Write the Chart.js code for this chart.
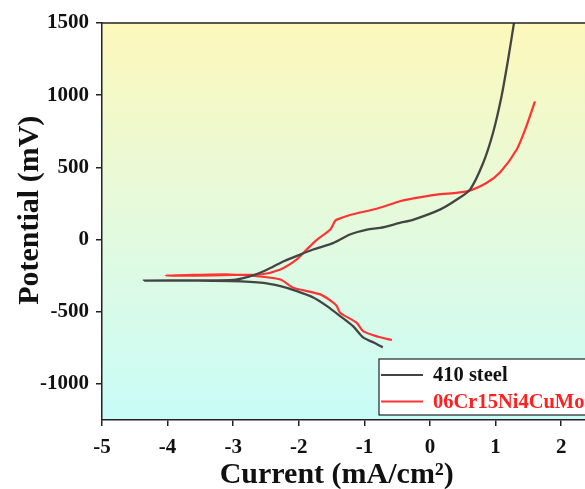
<!DOCTYPE html>
<html>
<head>
<meta charset="utf-8">
<script src="https://cdn.jsdelivr.net/npm/chart.js@4.4.0/dist/chart.umd.min.js"></script>
<style>
  html, body { margin: 0; padding: 0; background: #ffffff; overflow: hidden; width: 585px; height: 489px; }
  #wrap { position: absolute; left: 0; top: 0; width: 600px; height: 489px; }
</style>
</head>
<body>
<div id="wrap"><canvas id="c" width="600" height="489"></canvas></div>
<script>
// ---- data ----
const seriesNames = ['410 steel', '06Cr15Ni4CuMo'];

// 410 steel: cathodic branch (from its lower end to the corrosion point), then anodic branch
const steel410X = [-0.72, -0.85, -1.02, -1.17, -1.37, -1.57, -1.78, -2.03, -2.28, -2.54, -3.04, -3.60, -4.36,
                   -3.60, -3.00, -2.74, -2.59, -2.40, -2.23, -1.98, -1.78, -1.47, -1.22, -0.96, -0.76, -0.46, -0.25, 0.15, 0.41, 0.61, 0.81, 0.96, 1.09, 1.19, 1.28];
const steel410Y = [-747, -715, -678, -602, -530, -461, -401, -357, -323, -300, -288, -285, -284,
                   -283, -280, -254, -230, -190, -150, -104, -69, -23, 35, 69, 81, 115, 138, 207, 277, 346, 530, 738, 991, 1245, 1500];

// 06Cr15Ni4CuMo: cathodic branch then anodic branch
const crNiX = [-0.58, -0.80, -1.02, -1.12, -1.37, -1.42, -1.47, -1.67, -2.08, -2.28, -2.64, -3.04, -3.60, -4.03,
               -3.60, -3.00, -2.59, -2.28, -2.03, -1.88, -1.72, -1.52, -1.45, -1.42, -1.22, -0.80, -0.46, -0.35, 0.10, 0.56, 0.86, 1.07, 1.32, 1.45, 1.60];
const crNiY = [-696, -672, -634, -576, -507, -461, -438, -380, -334, -277, -254, -242, -245, -249,
               -250, -245, -242, -207, -138, -69, 0, 69, 127, 138, 170, 215, 265, 277, 311, 334, 392, 466, 622, 761, 957];

const xTicks = [-5, -4, -3, -2, -1, 0, 1, 2];
const yTicks = [-1000, -500, 0, 500, 1000, 1500];

const toPts = (xs, ys) => xs.map((x, i) => ({ x: x, y: ys[i] }));

const FONT = "'Liberation Serif', 'Times New Roman', serif";
const NB = '\u00a0';

const bgPlugin = {
  id: 'bg',
  beforeDraw(chart) {
    const { ctx, chartArea: a } = chart;
    const g = ctx.createLinearGradient(0, a.top, 0, a.bottom);
    g.addColorStop(0, '#fdf8bb');
    g.addColorStop(0.5, '#e4fadd');
    g.addColorStop(1, '#c8fcf8');
    ctx.save();
    ctx.fillStyle = g;
    ctx.fillRect(a.left, a.top, a.right - a.left, a.bottom - a.top);
    ctx.restore();
  },
  afterDraw(chart) {
    const { ctx, chartArea: a } = chart;
    ctx.save();
    ctx.strokeStyle = '#222';
    ctx.lineWidth = 1.5;
    ctx.beginPath();
    ctx.moveTo(a.left, a.top);
    ctx.lineTo(a.right + 10, a.top);
    ctx.stroke();
    // legend box
    const bx = a.right - 215, by = a.bottom - 61, bw = 240, bh = 56;
    ctx.fillStyle = '#ffffff';
    ctx.fillRect(bx, by, bw, bh);
    ctx.strokeStyle = '#222';
    ctx.lineWidth = 1.2;
    ctx.strokeRect(bx, by, bw, bh);
    const ds = chart.data.datasets;
    const rows = [by + 16, by + 42.5];
    ctx.font = "bold 20.5px " + FONT;
    ctx.textBaseline = 'middle';
    ds.forEach((d, i) => {
      ctx.strokeStyle = d.borderColor;
      ctx.lineWidth = 2.2;
      ctx.beginPath();
      ctx.moveTo(bx + 2, rows[i]);
      ctx.lineTo(bx + 44, rows[i]);
      ctx.stroke();
      ctx.fillStyle = i === 0 ? '#111' : '#ff2020';
      ctx.fillText(d.label, bx + 54, rows[i] + 1);
    });
    ctx.restore();
  }
};

new Chart(document.getElementById('c'), {
  type: 'line',
  data: {
    datasets: [
      { label: seriesNames[0], data: toPts(steel410X, steel410Y), borderColor: '#444444', borderWidth: 2.3, pointRadius: 0, tension: 0.25, fill: false },
      { label: seriesNames[1], data: toPts(crNiX, crNiY), borderColor: '#ff3333', borderWidth: 2.2, pointRadius: 0, tension: 0.25, fill: false }
    ]
  },
  options: {
    responsive: false,
    animation: false,
    layout: { padding: { top: 23, right: 6, left: 0, bottom: 0 } },
    plugins: { legend: { display: false }, tooltip: { enabled: false } },
    scales: {
      x: {
        type: 'linear', min: -5, max: 2.5,
        afterBuildTicks: s => { s.ticks = xTicks.map(v => ({ value: v })); },
        afterFit: s => { s.height = 69; },
        grid: { drawOnChartArea: false, color: '#222', lineWidth: 1.5, tickLength: 6 },
        border: { display: true, color: '#222', width: 1.5 },
        ticks: { color: '#111', font: { family: FONT, size: 21, weight: 'bold' }, padding: 9, maxRotation: 0, callback: v => String(v) },
        title: { display: true, text: 'Current (mA/cm²)' + NB + NB + NB, color: '#111', font: { family: FONT, size: 30, weight: 'bold', lineHeight: 1 }, padding: { top: 0, bottom: -1 } }
      },
      y: {
        type: 'linear', min: -1250, max: 1500,
        afterBuildTicks: s => { s.ticks = yTicks.map(v => ({ value: v })); },
        afterFit: s => { s.width = 102; },
        grid: { drawOnChartArea: false, color: '#222', lineWidth: 1.5, tickLength: 6 },
        border: { display: true, color: '#222', width: 1.5 },
        ticks: { color: '#111', font: { family: FONT, size: 21, weight: 'bold' }, padding: 7, callback: v => String(v) },
        title: { display: true, text: NB + NB + NB + 'Potential (mV)', color: '#111', font: { family: FONT, size: 30, weight: 'bold', lineHeight: 1 }, padding: { top: 15, bottom: 0 } }
      }
    }
  },
  plugins: [bgPlugin]
});
</script>
</body>
</html>
